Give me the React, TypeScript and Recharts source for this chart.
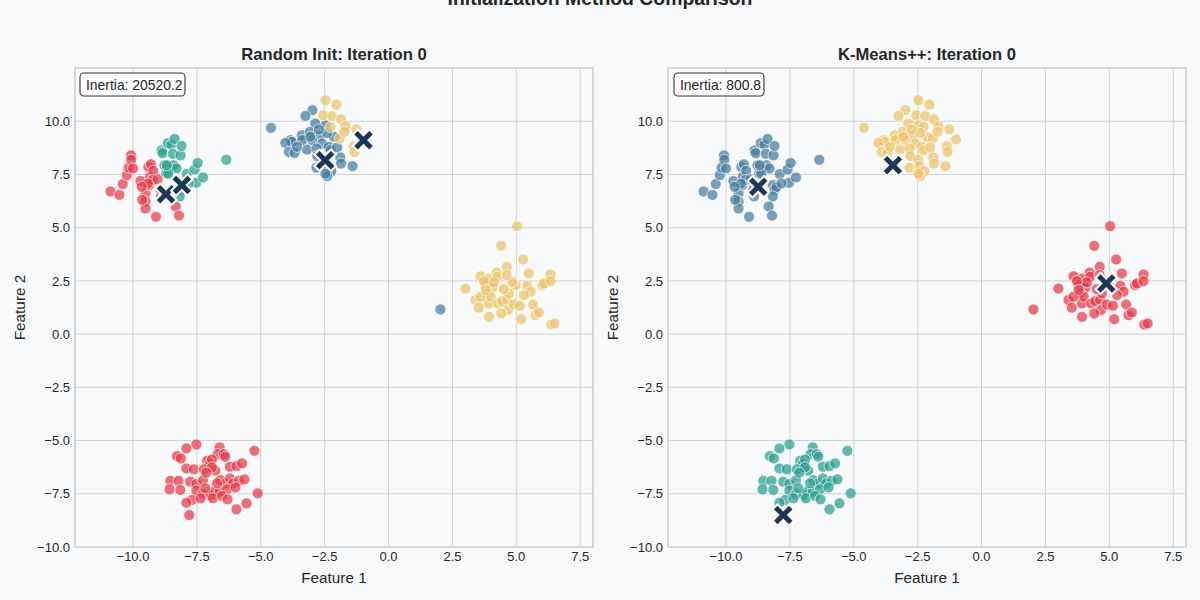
import { ScatterChart, Scatter, XAxis, YAxis, CartesianGrid, ReferenceArea } from "recharts";

// blob around (-9, 7.5)
const UPPER_LEFT = [
  [-10.88, 6.7], [-10.53, 6.54], [-10.4, 7.05], [-10.24, 7.47], [-10.17, 7.82], [-10.08, 8.4],
  [-10.07, 8.19], [-10.0, 7.78], [-9.71, 7.19], [-9.51, 6.62], [-9.51, 6.23], [-9.51, 5.9],
  [-9.4, 7.85], [-9.34, 7.39], [-9.37, 7.0], [-9.3, 7.98], [-9.21, 7.67], [-9.1, 5.51],
  [-8.9, 6.47], [-8.93, 6.81], [-8.88, 8.63], [-8.84, 8.5], [-8.77, 7.93], [-8.64, 8.97],
  [-8.5, 8.9], [-8.37, 9.17], [-8.44, 8.47], [-8.41, 7.93], [-8.3, 7.78], [-8.14, 8.4],
  [-8.1, 8.84], [-8.17, 7.0], [-8.1, 6.77], [-8.03, 6.9], [-7.9, 7.52], [-8.17, 6.47],
  [-8.33, 6.0], [-8.2, 5.57], [-7.59, 7.73], [-7.47, 8.04], [-7.53, 7.11], [-7.26, 7.36],
  [-6.35, 8.19], [-9.64, 6.31], [-9.24, 7.24], [-8.7, 7.55], [-9.04, 7.27], [-7.83, 7.08],
  [-9.42, 7.07], [-9.66, 6.92], [-8.62, 7.54], [-8.68, 7.93],
];

// blob around (-2.5, 9)
const UPPER_MID = [
  [-4.6, 9.69], [-2.47, 10.99], [-2.04, 10.78], [-2.98, 10.52], [-3.25, 10.25], [-2.56, 10.28],
  [-2.21, 10.24], [-1.86, 10.09], [-2.87, 9.89], [-2.47, 9.81], [-2.27, 9.73], [-1.69, 9.76],
  [-1.26, 9.62], [-1.0, 9.14], [-3.84, 9.11], [-3.4, 9.34], [-3.08, 9.5], [-2.69, 9.3],
  [-2.99, 9.11], [-3.78, 9.03], [-4.04, 8.98], [-2.14, 9.27], [-1.91, 9.19], [-1.72, 9.5],
  [-2.4, 9.45], [-2.6, 8.95], [-3.19, 8.67], [-2.82, 8.72], [-2.34, 8.8], [-2.27, 8.64],
  [-2.01, 8.77], [-1.36, 8.83], [-1.33, 8.56], [-3.9, 8.56], [-3.68, 8.51], [-3.38, 9.11],
  [-2.79, 8.36], [-2.47, 8.2], [-1.89, 8.3], [-1.86, 8.01], [-1.41, 7.89], [-2.82, 7.82],
  [-2.43, 7.89], [-2.24, 7.65], [-2.4, 7.42], [-2.47, 7.54], [-3.06, 9.27], [-3.58, 8.8],
  [-2.73, 9.61],
];

// blob around (4.8, 2)
const RIGHT_BLOB = [
  [5.03, 5.07], [4.41, 4.15], [5.27, 3.51], [4.62, 3.16], [2.03, 1.16], [3.01, 2.14],
  [3.6, 2.72], [3.93, 2.61], [4.23, 2.89], [4.25, 2.69], [3.8, 2.3], [4.06, 2.18],
  [3.86, 1.91], [3.4, 1.6], [3.53, 1.24], [3.93, 1.44], [4.0, 1.76], [4.28, 1.44],
  [4.45, 1.55], [4.64, 1.6], [4.71, 1.91], [4.67, 1.13], [4.41, 0.97], [3.93, 0.81],
  [4.9, 1.39], [5.14, 1.33], [5.19, 0.7], [5.43, 2.27], [5.56, 1.99], [5.49, 2.85],
  [5.66, 1.39], [5.75, 0.89], [5.88, 1.02], [6.01, 2.3], [6.08, 2.38], [6.34, 2.8],
  [6.34, 2.49], [6.37, 0.45], [6.5, 0.5], [3.6, 1.76], [4.12, 2.43], [3.73, 2.49],
  [3.8, 2.07], [4.51, 2.11], [4.97, 2.3], [4.84, 2.45], [4.62, 2.77], [5.3, 1.83],
];

// blob around (-7, -6.8)
const LOWER_BLOB = [
  [-7.52, -5.18], [-7.91, -5.37], [-8.28, -5.73], [-8.13, -5.84], [-6.61, -5.32], [-6.69, -5.64],
  [-6.45, -5.64], [-6.39, -5.76], [-5.25, -5.48], [-7.91, -6.31], [-7.62, -6.35], [-7.1, -5.95],
  [-7.0, -6.1], [-6.91, -5.89], [-7.23, -6.35], [-6.78, -6.41], [-6.91, -6.26], [-6.21, -6.23],
  [-5.95, -6.2], [-5.73, -6.07], [-8.54, -6.89], [-8.22, -6.89], [-7.76, -6.93], [-7.52, -7.04],
  [-7.26, -6.86], [-7.13, -6.51], [-6.58, -6.86], [-6.39, -7.01], [-6.21, -6.78], [-6.08, -7.01],
  [-5.86, -6.89], [-5.64, -6.82], [-8.57, -7.29], [-8.15, -7.32], [-7.52, -7.35], [-7.26, -7.51],
  [-6.97, -7.56], [-6.84, -7.4], [-6.61, -7.4], [-6.32, -7.29], [-5.99, -7.2], [-6.87, -7.71],
  [-6.52, -7.6], [-6.3, -7.76], [-5.12, -7.48], [-7.69, -7.79], [-7.36, -7.71], [-5.95, -8.23],
  [-5.56, -7.95], [-7.91, -7.92], [-7.17, -7.24], [-6.71, -7.01], [-7.8, -8.5],
];

const ALL_POINTS = [...UPPER_LEFT, ...UPPER_MID, ...RIGHT_BLOB, ...LOWER_BLOB];

const RANDOM_CENTROIDS = [[-8.71, 6.57], [-8.09, 7.0], [-2.48, 8.17], [-0.98, 9.11]];
const RANDOM_COLORS = ["#e63946", "#2a9d8f", "#457b9d", "#e9c46a"];
const RANDOM_INERTIA = 20520.2;

const PP_CENTROIDS = [[-8.74, 6.92], [-3.47, 7.93], [4.88, 2.38], [-7.76, -8.5]];
const PP_COLORS = ["#457b9d", "#e9c46a", "#e63946", "#2a9d8f"];
const PP_INERTIA = 800.8;

const X_TICKS = [-10, -7.5, -5, -2.5, 0, 2.5, 5, 7.5];
const Y_TICKS = [-10, -7.5, -5, -2.5, 0, 2.5, 5, 7.5, 10];
const X_DOMAIN = [-12.27, 8.0];
const Y_DOMAIN = [-10, 12.5];

const FONT = '"Liberation Sans", Arial, sans-serif';
const TEXT = "#262626";
const GRID = "#cccccc";

const fmt = (v: number) => v.toFixed(1).replace("-", "\u2212");

// label each point with its nearest centroid
function assign(centroids: number[][]) {
  const groups: { x: number; y: number }[][] = centroids.map(() => []);
  for (const [x, y] of ALL_POINTS) {
    let best = 0;
    let bestD = Infinity;
    centroids.forEach(([cx, cy], i) => {
      const d = (x - cx) ** 2 + (y - cy) ** 2;
      if (d < bestD) {
        bestD = d;
        best = i;
      }
    });
    groups[best].push({ x, y });
  }
  return groups;
}

const dotShape = (color: string) => (p: any) => (
  <circle cx={p.cx} cy={p.cy} r={5.5} fill={color} fillOpacity={0.72} stroke="#ffffff" strokeOpacity={0.85} strokeWidth={0.8} />
);

// filled "X" marker: a plus sign rotated by 45 degrees
function CentroidMark(p: any) {
  const a = 3.5;
  const L = 11.6;
  const arm = [[a, L], [a, a], [L, a], [L, -a], [a, -a], [a, -L], [-a, -L], [-a, -a], [-L, -a], [-L, a], [-a, a], [-a, L]];
  const s = Math.SQRT1_2;
  const d =
    arm.map(([x, y], i) => `${i ? "L" : "M"}${(p.cx + (x - y) * s).toFixed(2)},${(p.cy + (x + y) * s).toFixed(2)}`).join("") + "Z";
  return <path d={d} fill="#1d3557" stroke="#ffffff" strokeWidth={2} strokeLinejoin="miter" />;
}

function Panel({ centroids, colors, left, margin }: { centroids: number[][]; colors: string[]; left: number; margin: any }) {
  const groups = assign(centroids);
  const cdata = centroids.map(([x, y]) => ({ x, y }));
  return (
    <div style={{ position: "absolute", left, top: 0, width: 600, height: 600 }}>
      <ScatterChart width={600} height={600} margin={margin}>
        <CartesianGrid stroke={GRID} strokeWidth={0.9} />
        <ReferenceArea x1={X_DOMAIN[0]} x2={X_DOMAIN[1]} y1={Y_DOMAIN[0]} y2={Y_DOMAIN[1]} fill="none" stroke={GRID} strokeWidth={1.2} />
        <XAxis
          type="number"
          dataKey="x"
          domain={X_DOMAIN}
          ticks={X_TICKS}
          allowDataOverflow
          tickFormatter={fmt}
          axisLine={false}
          tickLine={false}
          tickSize={3}
          tickMargin={2}
          height={30}
          tick={{ fill: TEXT, fontSize: 13, fontFamily: FONT }}
        />
        <YAxis
          type="number"
          dataKey="y"
          domain={Y_DOMAIN}
          ticks={Y_TICKS}
          allowDataOverflow
          tickFormatter={fmt}
          axisLine={false}
          tickLine={false}
          tickSize={3}
          tickMargin={2}
          width={60}
          tick={{ fill: TEXT, fontSize: 13, fontFamily: FONT }}
        />
        {groups.map((g, i) => (
          <Scatter key={i} data={g} shape={dotShape(colors[i])} isAnimationActive={false} />
        ))}
        <Scatter data={cdata} shape={CentroidMark} isAnimationActive={false} />
      </ScatterChart>
    </div>
  );
}

function InertiaBox({ x, w, value }: { x: number; w: number; value: number }) {
  return (
    <g>
      <rect x={x} y={73} width={w} height={23} rx={4} fill="#ffffff" fillOpacity={0.85} stroke="#333333" strokeWidth={1.1} />
      <text x={x + 6} y={89.5} fontSize={13.9} fill={TEXT}>
        Inertia: {value}
      </text>
    </g>
  );
}

export default function App() {
  return (
    <div style={{ position: "absolute", left: 0, top: 0, width: 1200, height: 600, background: "#f8f9fa", fontFamily: FONT }}>
      <Panel centroids={RANDOM_CENTROIDS} colors={RANDOM_COLORS} left={0} margin={{ top: 68, right: 7, bottom: 23, left: 15 }} />
      <Panel centroids={PP_CENTROIDS} colors={PP_COLORS} left={600} margin={{ top: 68, right: 14, bottom: 23, left: 8 }} />
      <svg width={1200} height={600} style={{ position: "absolute", left: 0, top: 0, pointerEvents: "none" }} fontFamily={FONT}>
        <text x={600} y={5} textAnchor="middle" fontSize={19.4} fontWeight="bold" fill={TEXT}>
          Initialization Method Comparison
        </text>
        <text x={334} y={60} textAnchor="middle" fontSize={16.6} fontWeight="bold" fill={TEXT}>
          Random Init: Iteration 0
        </text>
        <text x={927} y={60} textAnchor="middle" fontSize={16.6} fontWeight="bold" fill={TEXT}>
          K-Means++: Iteration 0
        </text>
        <text x={334} y={583} textAnchor="middle" fontSize={15.3} fill={TEXT}>
          Feature 1
        </text>
        <text x={927} y={583} textAnchor="middle" fontSize={15.3} fill={TEXT}>
          Feature 1
        </text>
        <text transform="translate(25,307.5) rotate(-90)" textAnchor="middle" fontSize={15.3} fill={TEXT}>
          Feature 2
        </text>
        <text transform="translate(618,307.5) rotate(-90)" textAnchor="middle" fontSize={15.3} fill={TEXT}>
          Feature 2
        </text>
        <InertiaBox x={80} w={105} value={RANDOM_INERTIA} />
        <InertiaBox x={674} w={90} value={PP_INERTIA} />
      </svg>
    </div>
  );
}
